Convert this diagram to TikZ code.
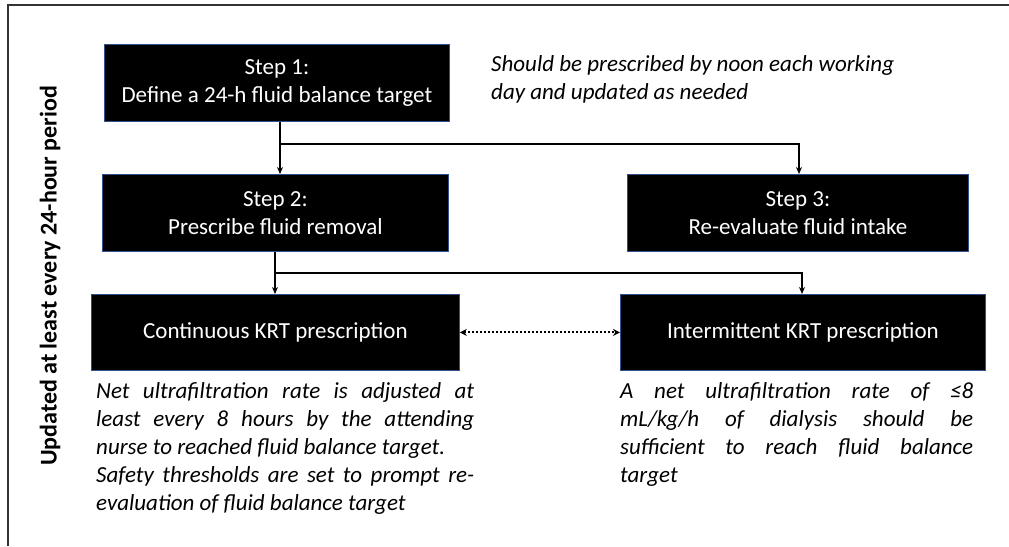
\documentclass[tikz,border=0pt]{standalone}
\usepackage{fontspec}
\setmainfont{Carlito}
\usetikzlibrary{arrows.meta}
\definecolor{boxedge}{RGB}{47,82,143}
\tikzset{
  x=1pt, y=-1pt,
  stepbox/.style={draw=boxedge, line width=0.8pt, fill=black, text=white, align=center,
    font=\fontsize{23}{28}\selectfont, inner sep=0pt, anchor=north west},
  conn/.style={line width=1.1pt, -{Stealth[length=7pt,width=6pt]}},
  desc/.style={font=\fontsize{23}{28}\selectfont\itshape, inner sep=0pt, anchor=north west, align=left},
}
\newcommand{\jline}[2]{\makebox[#1][s]{#2}}
\begin{document}
\begin{tikzpicture}
\useasboundingbox (0,0) rectangle (1009,546);
% frame
\draw[line width=1.2pt, draw=black!80] (8,546) -- (8,5) -- (1009,5);
% side label
\node[rotate=90, font=\fontsize{24}{28}\selectfont\bfseries] (side) at (50,276) {Updated at least every 24-hour period};
% boxes
\node[stepbox, minimum width=345pt, minimum height=77pt] (s1) at (104,44) {Step 1:\\Define a 24-h fluid balance target};
\node[stepbox, minimum width=346pt, minimum height=77pt] (s2) at (102,174) {Step 2:\\Prescribe fluid removal};
\node[stepbox, minimum width=341pt, minimum height=77pt] (s3) at (627,174) {Step 3:\\Re-evaluate fluid intake};
\node[stepbox, minimum width=368pt, minimum height=76pt] (c) at (91,294) {Continuous KRT prescription};
\node[stepbox, minimum width=365pt, minimum height=76pt] (i) at (620,294) {Intermittent KRT prescription};
% note
\node[anchor=north west, inner sep=0pt, align=left, font=\fontsize{23}{28}\selectfont\itshape] (note) at (491,55) {Should be prescribed by noon each working\\day and updated as needed};
% connectors
\coordinate (b1) at (280,144);
\coordinate (b2) at (275,273);
\draw[conn] (s1.south -| b1) -- (s2.north -| b1);
\draw[conn] (b1) -| (s3.north -| 799,0);
\draw[conn] (s2.south -| b2) -- (c.north -| b2);
\draw[conn] (b2) -| (i.north -| 802,0);
\draw[line width=2pt, dash pattern=on 2pt off 2pt, {Stealth[length=7pt,width=7pt]}-{Stealth[length=7pt,width=7pt]}] (c.east) -- (i.west);
% descriptions
\node[desc] (cd) at (96,382) {\jline{378pt}{Net ultrafiltration rate is adjusted at}\\\jline{378pt}{least every 8 hours by the attending}\\nurse to reached fluid balance target.\\\jline{378pt}{Safety thresholds are set to prompt re-}\\evaluation of fluid balance target};
\node[desc] (id) at (620,382) {\jline{353pt}{A net ultrafiltration rate of ≤8}\\\jline{353pt}{mL/kg/h of dialysis should be}\\\jline{353pt}{sufficient to reach fluid balance}\\target};
\end{tikzpicture}
\end{document}
